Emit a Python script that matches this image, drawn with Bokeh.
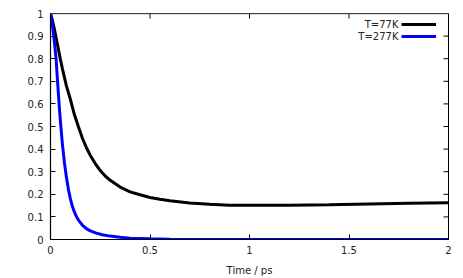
import math
from bokeh.plotting import figure
from bokeh.models import (Range1d, FixedTicker, Legend, LegendItem, Label, Span)
from bokeh.core.properties import value
from bokeh.embed import file_html
from bokeh.resources import INLINE

# ---- data ----
t77 = [0, 0.01, 0.02, 0.03, 0.04, 0.05, 0.06, 0.08, 0.1, 0.12, 0.14, 0.16, 0.18, 0.2,
       0.225, 0.25, 0.275, 0.3, 0.35, 0.4, 0.45, 0.5, 0.55, 0.6, 0.7, 0.8, 0.9, 1.0,
       1.2, 1.4, 1.6, 1.8, 2.0]
y77 = [1.0, 0.968, 0.929, 0.885, 0.84, 0.796, 0.755, 0.68, 0.62, 0.553, 0.50, 0.449,
       0.407, 0.372, 0.336, 0.305, 0.281, 0.262, 0.232, 0.211, 0.198, 0.186, 0.178, 0.171,
       0.162, 0.156, 0.152, 0.151, 0.152, 0.154, 0.157, 0.160, 0.163]
t277 = [0, 0.006, 0.012, 0.02, 0.028, 0.034, 0.04, 0.046, 0.052, 0.06, 0.07, 0.08, 0.09,
        0.1, 0.11, 0.12, 0.13, 0.145, 0.16, 0.18, 0.2, 0.23, 0.26, 0.3, 0.35, 0.4, 0.5,
        0.6, 0.8, 1.0, 1.5, 2.0]
y277 = [1.0, 0.975, 0.93, 0.87, 0.80, 0.72, 0.64, 0.565, 0.50, 0.42, 0.34, 0.275, 0.222,
        0.18, 0.147, 0.122, 0.102, 0.08, 0.064, 0.048, 0.038, 0.028, 0.021, 0.015, 0.010,
        0.006, 0.003, 0.0015, 0.0005, 0.0, 0.0, 0.0]
names = ["T=77K", "T=277K"]
colors = ["black", "#0000ff"]
xticks = [0, 0.5, 1, 1.5, 2]
xlabels = ["0", "0.5", "1", "1.5", "2"]
yticks = [0, 0.1, 0.2, 0.3, 0.4, 0.5, 0.6, 0.7, 0.8, 0.9, 1.0]
ylabels = ["0", "0.1", "0.2", "0.3", "0.4", "0.5", "0.6", "0.7", "0.8", "0.9", "1"]
x0, x1, y0, y1 = 0, 2, 0, 1

FONT = "DejaVu Sans"
p = figure(frame_width=398, frame_height=226, output_backend="svg", toolbar_location=None,
           x_range=Range1d(x0, x1), y_range=Range1d(y0, y1),
           min_border_left=50, min_border_right=15, min_border_top=13, min_border_bottom=39,
           x_axis_label="Time / ps")
p.grid.visible = False
p.outline_line_color = "black"
p.outline_line_width = 1
p.background_fill_color = "white"
p.border_fill_color = "white"

def style(ax):
    ax.major_tick_in = 5
    ax.major_tick_out = 0
    ax.minor_tick_line_color = None
    ax.axis_line_color = "black"
    ax.axis_line_width = 1.2
    ax.major_tick_line_color = "black"
    ax.major_label_text_font = FONT
    ax.major_label_text_font_size = "10px"
    ax.major_label_text_color = "#222222"

xa = p.xaxis[0]
xa.ticker = FixedTicker(ticks=xticks)
xa.major_label_overrides = {t: l for t, l in zip(xticks, xlabels)}
style(xa)
xa.major_label_standoff = 6
xa.axis_label_text_font = FONT
xa.axis_label_text_font_size = "10px"
xa.axis_label_text_font_style = "normal"
xa.axis_label_text_color = "#222222"
xa.axis_label_standoff = 8

ya = p.yaxis[0]
ya.ticker = FixedTicker(ticks=yticks)
ya.major_label_overrides = {t: l for t, l in zip(yticks, ylabels)}
style(ya)
ya.major_label_standoff = 7

# top border (grey, as in the reference) and mirrored inward ticks
p.add_layout(Span(location=y1, dimension="width", line_color="#7a7a7a", line_width=1.5))
p.ray(x=xticks, y=[y1] * len(xticks), length=5, length_units="screen",
      angle=-math.pi / 2, line_color="black", line_width=1)
p.ray(x=[x1] * len(yticks), y=yticks, length=5, length_units="screen",
      angle=math.pi, line_color="black", line_width=1)

r1 = p.line(t77, y77, line_color=colors[0], line_width=3)
r2 = p.line(t277, y277, line_color=colors[1], line_width=3)

legend = Legend(items=[LegendItem(label=value(" "), renderers=[r1]),
                       LegendItem(label=value(" "), renderers=[r2])],
                location=(351, 197), orientation="vertical",
                glyph_width=35, glyph_height=12, label_width=0, label_height=12,
                label_standoff=0, label_text_font_size="10px", spacing=0, padding=0,
                margin=0, border_line_color=None, background_fill_alpha=0)
p.add_layout(legend, "center")

for i, nm in enumerate(names):
    p.add_layout(Label(x=348, y=215 - 12 * i, x_units="screen", y_units="screen", text=nm,
                       text_align="right", text_baseline="middle", text_font=FONT,
                       text_font_size="10px", text_color="#222222"))

open("out.html", "w").write(file_html(p, INLINE))
